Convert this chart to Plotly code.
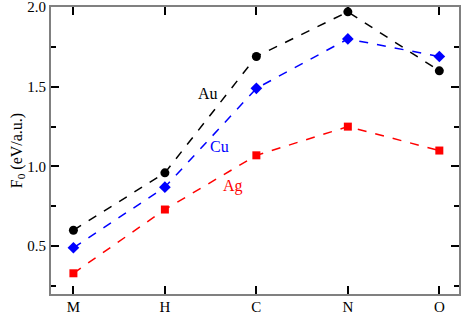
import plotly.graph_objects as go

categories = ["M", "H", "C", "N", "O"]
au_values = [0.60, 0.96, 1.69, 1.97, 1.60]
cu_values = [0.49, 0.87, 1.49, 1.80, 1.69]
ag_values = [0.33, 0.73, 1.07, 1.25, 1.10]
y_tick_vals = [0.5, 1.0, 1.5, 2.0]
y_tick_text = ["0.5", "1.0", "1.5", "2.0"]

xpos = list(range(len(categories)))
font_family = "Liberation Serif"

fig = go.Figure()
series = [
    ("Au", au_values, "black", "circle", 9),
    ("Cu", cu_values, "#0000ff", "diamond", 9),
    ("Ag", ag_values, "#ff0000", "square", 8),
]
for name, vals, color, sym, size in series:
    fig.add_trace(go.Scatter(
        x=xpos, y=vals, mode="lines+markers", name=name,
        line=dict(color=color, width=1.5, dash="dash"),
        marker=dict(color=color, symbol=sym, size=size),
        showlegend=False, cliponaxis=False,
    ))

# series labels
labels = [("Au", 1.47, 1.455, "black"), ("Cu", 1.60, 1.125, "#0000ff"), ("Ag", 1.745, 0.88, "#ff0000")]
for text, x, y, color in labels:
    fig.add_annotation(x=x, y=y, text=text, showarrow=False,
                       font=dict(family=font_family, size=16, color=color))

axis_common = dict(
    showline=True, linecolor="#808080", linewidth=2, mirror="ticks",
    ticks="inside", tickcolor="black", tickwidth=1.5, ticklen=8,
    showgrid=False, zeroline=False, ticklabeloverflow="allow",
    tickfont=dict(family=font_family, size=15, color="black"),
)

fig.update_xaxes(
    range=[-0.245, 4.215], tickvals=xpos, ticktext=categories,
    ticklabelstandoff=-2, **axis_common
)
fig.update_yaxes(
    range=[0.2, 2.0005], tickvals=y_tick_vals, ticktext=y_tick_text,
    minor=dict(ticks="inside", tickvals=[0.25, 0.75, 1.25, 1.75], ticklen=5,
               tickcolor="black", tickwidth=1.5),
    title=dict(text="F<sub>0</sub> (eV/a.u.)", font=dict(family=font_family, size=16, color="black"),
               standoff=1),
    **axis_common
)

fig.update_layout(
    width=463, height=314,
    margin=dict(l=51, r=4, t=7, b=20, autoexpand=False),
    paper_bgcolor="white", plot_bgcolor="white",
)

fig.write_html("out.html", config={"displayModeBar": False},
               post_script="document.body.style.margin='0';")
